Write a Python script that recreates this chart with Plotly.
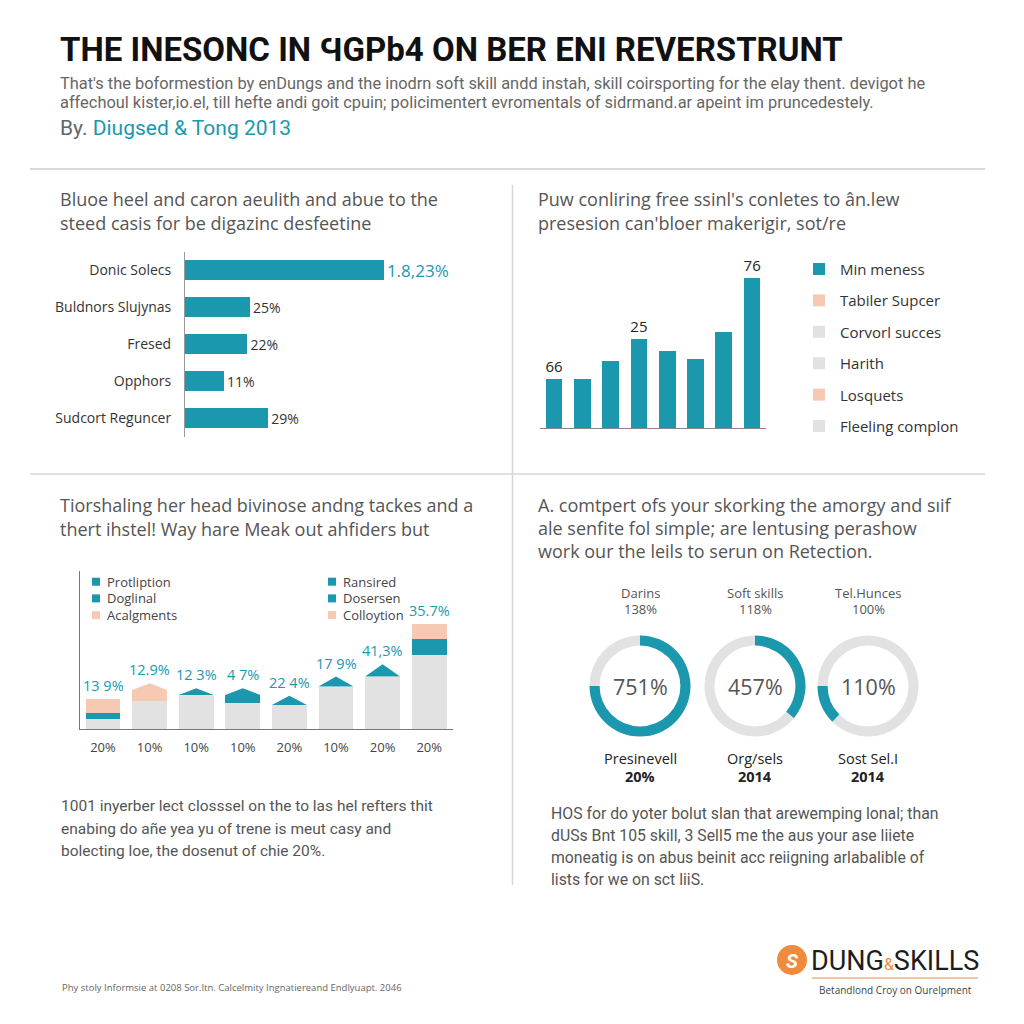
import plotly.graph_objects as go

# Page has an 8px body margin; figure sized so the whole page is 1024x1024.
OFF = 8
W = H = 1024 - 2 * OFF
def px(x): return (x - OFF) / W
def py(y): return 1 - (y - OFF) / H

TEAL = "#1b97ae"
PEACH = "#f6c9b2"
LGRAY = "#e2e2e2"
TXT = "#555555"
DARK = "#222222"
ORANGE = "#f08a3c"
NARROW = "Roboto, sans-serif"
BODY = "Open Sans, Noto Sans, sans-serif"

# ---------------- data ----------------
p1_categories = ["Donic Solecs", "Buldnors Slujynas", "Fresed", "Opphors", "Sudcort Reguncer"]
p1_values = [76.5, 25, 24, 15, 32]
p1_labels = ["1.8,23%", "25%", "22%", "11%", "29%"]

p2_values = [25, 25, 34, 45, 39, 35, 49, 76]
p2_labels = ["66", "", "", "25", "", "", "", "76"]
p2_legend = ["Min meness", "Tabiler Supcer", "Corvorl succes", "Harith", "Losquets", "Fleeling complon"]

p3_ticks = ["20%", "10%", "10%", "10%", "20%", "10%", "20%", "20%"]
p3_gray = [10, 28.7, 34.3, 26, 24.3, 42.7, 52.7, 74.3]
p3_teal = [6.7, 0, 0, 8.3, 0, 0, 0, 16]
p3_peach = [13.7, 10.7, 0, 0, 0, 0, 0, 15]
p3_roof = [0, 6.7, 6.7, 6.7, 9.3, 10, 12.4, 0]
p3_labels = ["13 9%", "12.9%", "12 3%", "4 7%", "22 4%", "17 9%", "41,3%", "35.7%"]
p3_legend_left = ["Protliption", "Doglinal", "Acalgments"]
p3_legend_right = ["Ransired", "Dosersen", "Colloytion"]

donut_top = ["Darins", "Soft skills", "Tel.Hunces"]
donut_top_pct = ["138%", "118%", "100%"]
donut_center = ["751%", "457%", "110%"]
donut_share = [75, 36, 12.5]
donut_start = [0, 0, 62.5]
donut_bottom = ["Presinevell", "Org/sels", "Sost Sel.I"]
donut_bottom_val = ["20%", "2014", "2014"]

# ---------------- styles ----------------
p2_legend_colors = [TEAL, PEACH, LGRAY, LGRAY, PEACH, LGRAY]
p3_roof_colors = [TEAL, PEACH, TEAL, TEAL, TEAL, TEAL, TEAL, TEAL]
p3_legend_colors = [TEAL, TEAL, PEACH]
donut_cx = [640, 755, 868]
donut_cy = 686
donut_r = 50.5

fig = go.Figure()

# Panel 1: horizontal bars
fig.add_trace(go.Bar(
    x=p1_values, y=list(range(len(p1_values))), orientation="h",
    marker=dict(color=TEAL, line=dict(width=0)), width=0.52,
    text=p1_labels, textposition="outside", cliponaxis=False, constraintext="none",
    textfont=dict(color=[TEAL, "#333", "#333", "#333", "#333"],
                  size=[17, 14, 14, 14, 14], family=BODY),
    xaxis="x", yaxis="y", hoverinfo="skip"))

# Panel 2: vertical bars
fig.add_trace(go.Bar(
    x=list(range(len(p2_values))), y=p2_values,
    marker=dict(color=TEAL, line=dict(width=0)), width=0.59,
    text=p2_labels, textposition="outside", cliponaxis=False, constraintext="none",
    textfont=dict(color="#222", size=15, family=BODY),
    xaxis="x2", yaxis="y2", hoverinfo="skip"))

# Panel 3: stacked bars + roofs
n3 = len(p3_gray)
for vals, col in [(p3_gray, LGRAY), (p3_teal, TEAL), (p3_peach, PEACH)]:
    fig.add_trace(go.Bar(
        x=list(range(n3)), y=vals, marker=dict(color=col, line=dict(width=0)),
        width=0.75, xaxis="x3", yaxis="y3", hoverinfo="skip"))
tops = []
for i in range(n3):
    base = p3_gray[i] + p3_teal[i] + p3_peach[i]
    r = p3_roof[i]
    if r > 0:
        fig.add_trace(go.Scatter(
            x=[i - 0.375, i, i + 0.375, i - 0.375], y=[base, base + r, base, base],
            fill="toself", fillcolor=p3_roof_colors[i], mode="lines",
            line=dict(width=0, color=p3_roof_colors[i]),
            xaxis="x3", yaxis="y3", hoverinfo="skip"))
    tops.append(base + r)

# Panel 4: donuts
for k in range(3):
    x0, x1 = donut_cx[k] - donut_r, donut_cx[k] + donut_r
    y0, y1 = donut_cy - donut_r, donut_cy + donut_r
    fig.add_trace(go.Pie(
        values=[donut_start[k], donut_share[k], 100 - donut_start[k] - donut_share[k]],
        marker=dict(colors=[LGRAY, TEAL, LGRAY], line=dict(width=0)),
        hole=0.8, sort=False, direction="clockwise", rotation=0,
        textinfo="none", hoverinfo="skip",
        domain=dict(x=[px(x0), px(x1)], y=[py(y1), py(y0)])))

ann = []
def T(x, y, text, size=15, color=TXT, family=BODY, xanchor="left", yanchor="middle"):
    ann.append(dict(x=px(x), y=py(y), xref="paper", yref="paper", text=text,
                    showarrow=False, xanchor=xanchor, yanchor=yanchor,
                    font=dict(size=size, color=color, family=family)))

# Header
T(58, 50, "<b>THE INESONC IN ϤGPb4 ON BER ENI REVERSTRUNT</b>", 33, "#111", NARROW)
T(58, 84, "That's the boformestion by enDungs and the inodrn soft skill andd instah, skill coirsporting for the elay thent. devigot he", 16.4, "#666", NARROW)
T(58, 102, "affechoul kister,io.el, till hefte andi goit cpuin; policimentert evromentals of sidrmand.ar apeint im pruncedestely.", 16.4, "#666", NARROW)
T(58, 128, f"By. <span style='color:{TEAL}'>Diugsed &amp; Tong 2013</span>", 21, "#666", NARROW)

# Panel titles
PT = 18
T(58, 199, "Bluoe heel and caron aeulith and abue to the", PT, TXT)
T(58, 223, "steed casis for be digazinc desfeetine", PT, TXT)
T(536, 199, "Puw conliring free ssinl's conletes to ân.lew", PT, TXT)
T(536, 223, "presesion can'bloer makerigir, sot/re", PT, TXT)
T(58, 505, "Tiorshaling her head bivinose andng tackes and a", PT, TXT)
T(58, 529, "thert ihstel! Way hare Meak out ahfiders but", PT, TXT)
T(536, 505, "A. comtpert ofs your skorking the amorgy and sıif", PT, TXT)
T(536, 528, "ale senfite fol simple; are lentusing perashow", PT, TXT)
T(536, 551, "work our the leils to serun on Retection.", PT, TXT)

# Panel 2 legend
shapes = []
for j, (lab, col) in enumerate(zip(p2_legend, p2_legend_colors)):
    yc = 269 + j * 31.4
    shapes.append(dict(type="rect", xref="paper", yref="paper",
                       x0=px(813), x1=px(825), y0=py(yc + 6), y1=py(yc - 6),
                       fillcolor=col, line=dict(width=0)))
    T(838, yc, lab, 15, "#333")

# Panel 3 legend
for j in range(3):
    yc = 581.7 + j * 16.7
    for xs, labs in [(92, p3_legend_left), (328, p3_legend_right)]:
        shapes.append(dict(type="rect", xref="paper", yref="paper",
                           x0=px(xs), x1=px(xs + 8), y0=py(yc + 4), y1=py(yc - 4),
                           fillcolor=p3_legend_colors[j], line=dict(width=0)))
        T(xs + 13, yc, labs[j], 13, "#444")

# Panel 3 value labels
for i in range(n3):
    ann.append(dict(x=i, y=tops[i], xref="x3", yref="y3", text=p3_labels[i],
                    showarrow=False, xanchor="center", yanchor="bottom", yshift=2,
                    font=dict(size=14.5, color=TEAL, family=BODY)))

# Donut texts
for k in range(3):
    cx = donut_cx[k]
    T(cx, 593, donut_top[k], 13, "#555", xanchor="center")
    T(cx, 609, donut_top_pct[k], 13, "#555", xanchor="center")
    T(cx, 686, donut_center[k], 21.5, "#555", xanchor="center")
    T(cx, 758, donut_bottom[k], 14.5, "#222", xanchor="center")
    T(cx, 776, f"<b>{donut_bottom_val[k]}</b>", 14.5, "#222", xanchor="center")

# Bottom paragraphs
for j, line in enumerate(["1001 inyerber lect closssel on the to las hel refters thit",
                          "enabing do añe yea yu of trene is meut casy and",
                          "bolecting loe, the dosenut of chie 20%."]):
    T(59, 806 + j * 22.5, line, 15.5, TXT, NARROW)
for j, line in enumerate(["HOS for do yoter bolut slan that arewemping lonal; than",
                          "dUSs Bnt 105 skill, 3 Sell5 me the aus your ase liiete",
                          "moneatig is on abus beinit acc reiigning arlabalible of",
                          "lists for we on sct liiS."]):
    T(549, 813 + j * 22, line, 15.8, TXT, NARROW)

# Footer
T(60, 987, "Phy stoly Informsie at 0208 Sor.Itn. Calcelmity Ingnatiereand Endlyuapt. 2046", 9.5, "#666")
T(895, 961, f"DUNG<span style='color:{ORANGE};font-size:16px'>&amp;</span>SKILLS", 27, "#1d1d1d", NARROW, xanchor="center")
T(895, 990, "Betandlond Croy on Ourelpment", 10, "#444", xanchor="center")
shapes.append(dict(type="circle", xref="paper", yref="paper",
                   x0=px(777), x1=px(807), y0=py(975), y1=py(945),
                   fillcolor=ORANGE, line=dict(width=0)))
T(792, 961, "<b><i>S</i></b>", 20, "white", NARROW, xanchor="center")
shapes.append(dict(type="line", xref="paper", yref="paper",
                   x0=px(812), x1=px(978), y0=py(978), y1=py(978),
                   line=dict(color=ORANGE, width=1.2)))

# Separators
shapes += [
    dict(type="line", xref="paper", yref="paper", x0=px(30), x1=px(985), y0=py(169), y1=py(169),
         line=dict(color="#dadada", width=2)),
    dict(type="line", xref="paper", yref="paper", x0=px(30), x1=px(985), y0=py(474), y1=py(474),
         line=dict(color="#d6d6d6", width=1.5)),
    dict(type="line", xref="paper", yref="paper", x0=px(512.5), x1=px(512.5), y0=py(185), y1=py(885),
         line=dict(color="#d6d6d6", width=1.5)),
]

noax = dict(showgrid=False, zeroline=False, ticks="")
fig.update_layout(
    width=W, height=H, autosize=False,
    margin=dict(l=0, r=0, t=0, b=0),
    paper_bgcolor="white", plot_bgcolor="rgba(0,0,0,0)",
    showlegend=False, barmode="stack",
    xaxis=dict(domain=[px(185), px(445)], range=[0, 100], visible=False, anchor="y", **noax),
    yaxis=dict(domain=[py(436.5), py(251.5)], range=[4.5, -0.5], anchor="x",
               tickvals=list(range(len(p1_categories))), ticktext=p1_categories,
               showline=True, linecolor="#999", linewidth=1, ticklabelstandoff=10,
               tickfont=dict(size=14, color="#333", family=BODY), **noax),
    xaxis2=dict(domain=[px(539.8), px(766.3)], range=[-0.5, 7.5], anchor="y2",
                showline=True, linecolor="#888", linewidth=1, showticklabels=False, **noax),
    yaxis2=dict(domain=[py(428.3), py(270.3)], range=[0, 80], anchor="x2", visible=False, **noax),
    xaxis3=dict(domain=[px(79.7), px(452.5)], range=[-0.5, 7.5], anchor="y3",
                tickvals=list(range(n3)), ticktext=p3_ticks, ticklabelstandoff=6,
                showline=True, linecolor="#777", linewidth=1.2,
                tickfont=dict(size=13, color="#444", family=BODY), **noax),
    yaxis3=dict(domain=[py(729.3), py(571.3)], range=[0, 158], anchor="x3",
                showline=True, linecolor="#777", linewidth=1.2, showticklabels=False, **noax),
    annotations=ann, shapes=shapes,
)

fig.write_html("out.html")
